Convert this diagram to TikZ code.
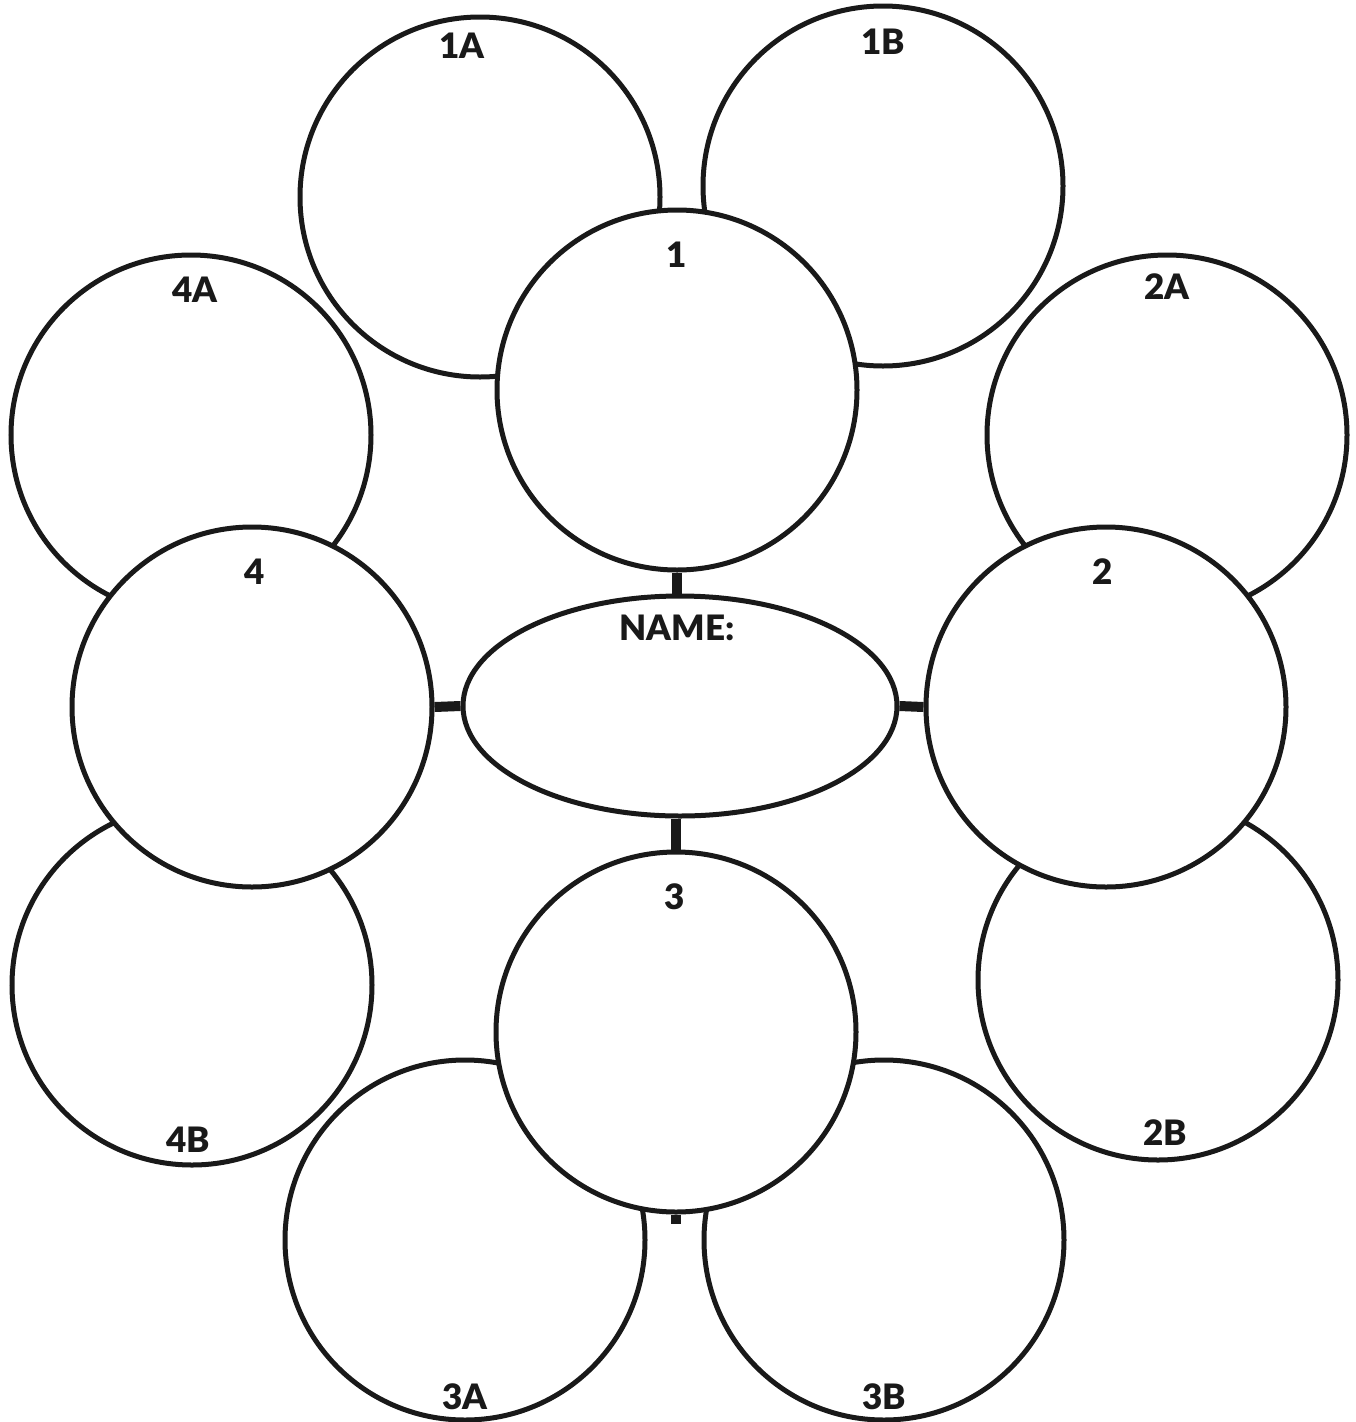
\documentclass[tikz,border=0pt]{standalone}
\usepackage{fontspec}
\setmainfont{Lato}[BoldFont={Lato Black}]
\usetikzlibrary{shapes.geometric}
\tikzset{
  bubble/.style={circle,draw=black!90,line width=5pt,fill=white,minimum size=360pt,inner sep=0pt},
  namebox/.style={ellipse,draw=black!90,line width=5pt,fill=white,minimum width=434pt,minimum height=220pt,inner sep=0pt},
  lbl/.style={font=\fontsize{35}{35}\selectfont\bfseries,text=black!90,inner sep=0pt,anchor=center},
  bar/.style={line width=10pt,draw=black!90}
}
\begin{document}
\begin{tikzpicture}[x=1pt,y=-1pt]
\useasboundingbox (0,0) rectangle (1356,1422);
% outer circles
\node[bubble] (c1a) at (480,197) {};
\node[bubble] (c1b) at (883,186) {};
\node[bubble] (c2a) at (1167,435) {};
\node[bubble] (c4a) at (191,435) {};
\node[bubble] (c4b) at (192,985) {};
\node[bubble] (c2b) at (1158,980) {};
\node[bubble] (c3a) at (465,1240) {};
\node[bubble] (c3b) at (884,1240) {};
% main circles
\node[bubble] (c1) at (677,390) {};
\node[bubble] (c4) at (252,707) {};
\node[bubble] (c2) at (1106,707) {};
\node[bubble] (c3) at (676,1032) {};
\node[namebox] (name) at (680,706) {};
% connectors
\coordinate (stub) at (676,1224);
\draw[bar] (c1.south) -- (c1.south |- name.north);
\draw[bar] (c4.east) -- (name.west);
\draw[bar] (name.east) -- (c2.west);
\draw[bar] (name.south -| c3.north) -- (c3.north);
\draw[bar] (c3.south) -- (stub);
% labels
\node[lbl] (t1a) at (462,46) {1A};
\node[lbl] (t1b) at (883,42) {1B};
\node[lbl] (t1) at (677,255) {1};
\node[lbl] (t2a) at (1167,287) {2A};
\node[lbl] (t4a) at (195,290) {4A};
\node[lbl] (t4) at (255,572) {4};
\node[lbl] (t2) at (1103,572) {2};
\node[lbl] (tname) at (677,628) {NAME:};
\node[lbl] (t3) at (675,897) {3};
\node[lbl] (t4b) at (188,1140) {4B};
\node[lbl] (t2b) at (1165,1133) {2B};
\node[lbl] (t3a) at (465,1397) {3A};
\node[lbl] (t3b) at (884,1397) {3B};
\end{tikzpicture}
\end{document}
